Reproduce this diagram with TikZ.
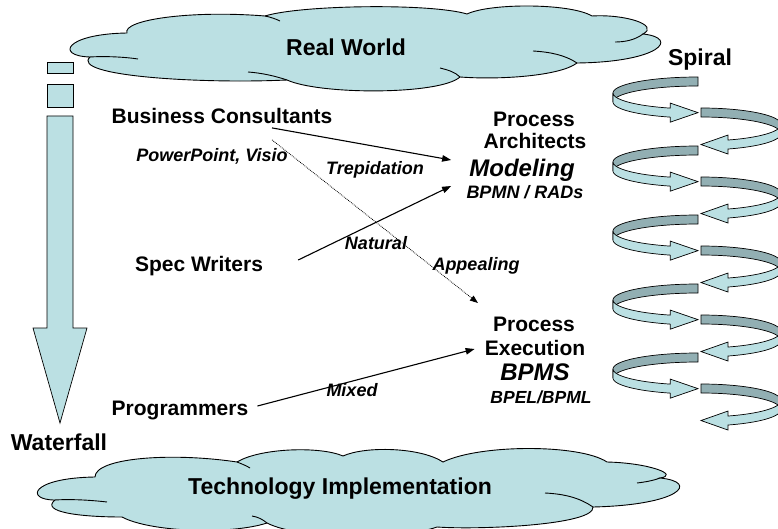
\documentclass[tikz,border=0pt]{standalone}
\usepackage{fontspec}
\setmainfont{Liberation Sans}
\usetikzlibrary{arrows.meta,calc}
\definecolor{cloudc}{RGB}{187,224,227}
\definecolor{bandd}{RGB}{146,175,179}
\tikzset{
  big/.style={font=\fontsize{23}{23}\selectfont\bfseries, inner sep=0pt},
  lbl/.style={font=\fontsize{21}{21}\selectfont\bfseries, inner sep=0pt},
  itl/.style={font=\fontsize{18}{18}\selectfont\bfseries\itshape, inner sep=0pt},
  bigit/.style={font=\fontsize{24}{24}\selectfont\bfseries\itshape, inner sep=0pt},
  conn/.style={line width=1.1pt, -{Triangle[length=9pt,width=6.5pt]}},
  dconn/.style={line width=0.8pt, densely dotted, -{Triangle[length=8pt,width=6pt]}},
  cloudshape/.style={draw=black, line width=0.9pt, fill=cloudc},
  cloudline/.style={draw=black, line width=0.9pt},
  band/.style={draw=black, line width=0.7pt},
}
\begin{document}
\begin{tikzpicture}[x=1pt,y=-1pt]
\useasboundingbox (0,0) rectangle (778,529);
\clip (0,0) rectangle (778,529);
\fill[white] (0,0) rectangle (778,529);

% top cloud
\draw[cloudshape] (90,57) .. controls (55,56) and (65,34) .. (127,33)
 .. controls (122,20) and (190,10) .. (265,16)
 .. controls (300,5) and (430,3) .. (467,14)
 .. controls (490,3) and (570,3) .. (592,16)
 .. controls (625,14) and (660,25) .. (643,34)
 .. controls (680,38) and (660,62) .. (577,63)
 .. controls (560,76) and (500,80) .. (460,77)
 .. controls (440,95) and (320,95) .. (287,80)
 .. controls (200,84) and (70,76) .. (90,57) -- cycle;
\draw[cloudline] (643,34) .. controls (635,40) and (625,42) .. (615,42);
\draw[cloudline] (577,63) .. controls (565,55) and (550,52) .. (533,51);
\draw[cloudline] (90,57) .. controls (105,56) and (125,57) .. (138,59);
\draw[cloudline] (287,80) .. controls (275,76) and (262,73) .. (248,72);
\draw[cloudline] (265,16) .. controls (270,17) and (276,19) .. (280,21);
\draw[cloudline] (460,77) .. controls (455,72) and (448,70) .. (440,68);
\node[big] (rw) at (346,47) {Real World};

% bottom cloud
\draw[cloudshape] (55,500) .. controls (25,500) and (30,478) .. (95,477)
 .. controls (95,458) and (170,452) .. (237,462)
 .. controls (260,448) and (320,446) .. (343,456)
 .. controls (365,446) and (420,447) .. (443,462)
 .. controls (480,444) and (580,444) .. (607,462)
 .. controls (650,463) and (680,475) .. (660,478)
 .. controls (700,482) and (680,505) .. (593,507)
 .. controls (595,525) and (480,530) .. (437,527)
 .. controls (400,540) and (300,540) .. (267,523)
 .. controls (230,535) and (150,532) .. (122,517)
 .. controls (80,517) and (40,512) .. (55,500) -- cycle;
\draw[cloudline] (55,500) .. controls (70,499) and (90,500) .. (107,502);
\draw[cloudline] (593,507) .. controls (580,498) and (565,494) .. (545,493);
\draw[cloudline] (660,478) .. controls (652,481) and (645,482) .. (637,483);
\draw[cloudline] (237,462) .. controls (242,464) and (247,466) .. (250,468);
\draw[cloudline] (267,523) .. controls (262,519) and (258,517) .. (252,516);
\node[big] (ti) at (340,489) {Technology Implementation};

% waterfall arrow
\draw[band, fill=cloudc] (47,62) rectangle (73,73);
\draw[band, fill=cloudc] (47,84) rectangle (73,107);
\draw[band, fill=cloudc] (47,116) -- (73,116) -- (73,328) -- (87,328) -- (60,423)
  -- (33,328) -- (47,328) -- cycle;
\node[big] (wf) at (59,442) {Waterfall};

% spiral
\node[big] (sp) at (700,60) {Spiral};
\foreach \i in {0,...,4}{
  \pgfmathsetmacro\cyl{93+69*\i}
  \pgfmathsetmacro\cyr{124.5+69*\i}
  \filldraw[band, fill=bandd] plot[domain=270:180, samples=25] ({698+85*cos(\x)},{\cyl+16*sin(\x)})
     -- plot[domain=180:270, samples=25] ({698+85*cos(\x)},{\cyl+16*sin(\x)+9}) -- cycle;
  \filldraw[band, fill=cloudc] plot[domain=180:109, samples=25] ({698+85*cos(\x)},{\cyl+16*sin(\x)})
     -- ({698+85*cos(109)},{\cyl+16*sin(109)-5})
     -- (698,{\cyl+16*sin(109)+4.5})
     -- ({698+85*cos(109)},{\cyl+16*sin(109)+14})
     -- plot[domain=109:180, samples=25] ({698+85*cos(\x)},{\cyl+16*sin(\x)+9}) -- cycle;
  \filldraw[band, fill=bandd] plot[domain=270:360, samples=25] ({701+80*cos(\x)},{\cyr+16.5*sin(\x)})
     -- plot[domain=360:270, samples=25] ({701+80*cos(\x)},{\cyr+16.5*sin(\x)+9}) -- cycle;
  \filldraw[band, fill=cloudc] plot[domain=0:70.3, samples=25] ({701+80*cos(\x)},{\cyr+16.5*sin(\x)})
     -- (728,{\cyr+16.5*sin(70.3)-5})
     -- (701,{\cyr+16.5*sin(70.3)+4.5})
     -- (728,{\cyr+16.5*sin(70.3)+14})
     -- plot[domain=70.3:0, samples=25] ({701+80*cos(\x)},{\cyr+16.5*sin(\x)+9}) -- cycle;
}

% roles
\node[lbl] (bc) at (222,116) {Business Consultants};
\node[itl] (ppt) at (212,156) {PowerPoint, Visio};
\node[lbl] (spec) at (199,266) {Spec Writers};
\node[lbl] (prog) at (180,410) {Programmers};

% targets
\node[lbl] (pa1) at (534,119) {Process};
\node[lbl] (pa2) at (535,141) {Architects};
\node[bigit] (model) at (522,170) {Modeling};
\node[itl] (bpmn) at (525,192) {BPMN / RADs};
\node[lbl] (pe1) at (534,324) {Process};
\node[lbl] (exe) at (535,348) {Execution};
\node[bigit] (bpms) at (535,372) {BPMS};
\node[itl, font=\fontsize{17.5}{17.5}\selectfont\bfseries\itshape] (bpel) at (541,397) {BPEL/BPML};

% connectors
\draw[conn] ($(bc.south)+(50,4)$) -- ($(model.west)+(-18,-10)$);
\draw[conn] ($(spec.east)+(35,-6)$) -- ($(model.west)+(-18,16)$);
\draw[dconn] ($(bc.south)+(50,16)$) -- ($(pe1.west)+(-15,-21)$);
\draw[conn] ($(prog.east)+(9,-4)$) -- ($(exe.west)+(-10,1)$);

% connector labels
\node[itl] (trep) at (375,170) {Trepidation};
\node[itl] (nat) at (376,243) {Natural};
\node[itl] (app) at (476,266) {Appealing};
\node[itl] (mix) at (352,390) {Mixed};
\end{tikzpicture}
\end{document}
